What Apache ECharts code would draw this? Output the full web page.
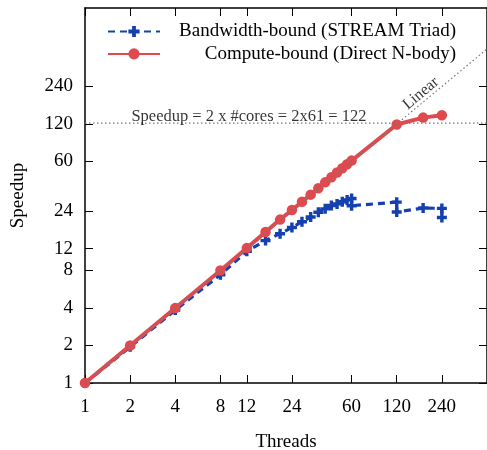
<!DOCTYPE html>
<html>
<head>
<meta charset="utf-8">
<script src="https://cdn.jsdelivr.net/npm/echarts@6/dist/echarts.min.js"></script>
<style>
html,body{margin:0;padding:0;background:#fff;}
#chart{width:487px;height:450px;}
</style>
</head>
<body>
<div id="chart"></div>
<script>
// ---- data ----
var xTicks = [1, 2, 4, 8, 12, 24, 60, 120, 240];
var yTicks = [1, 2, 4, 8, 12, 24, 60, 120, 240];

var bwThreads = [1, 2, 4, 8, 12, 16, 20, 24, 28, 32, 36, 40, 44, 48, 52, 56, 60, 60, 120, 120, 180, 240, 240];
var bwSpeedup = [1, 1.95, 3.85, 7.4, 11.4, 13.9, 15.8, 17.7, 19.7, 21.5, 23.5, 25, 26.6, 27.4, 28.5, 29.5, 30.3, 26.5, 28.3, 23.6, 25.4, 25.2, 21.3];

var cbThreads = [1, 2, 4, 8, 12, 16, 20, 24, 28, 32, 36, 40, 44, 48, 52, 56, 60, 120, 180, 240];
var cbSpeedup = [1, 2, 4, 8, 12.1, 16.3, 20.5, 24.5, 28.5, 32.5, 36.6, 40.8, 44.8, 49, 53, 57, 61, 119, 135, 141];

var linearRange = [1, 480];
var capLevel = 122;
var capText = 'Speedup = 2 x #cores = 2x61 = 122';
var capTextAt = [12.4, 122];
var linearText = 'Linear';
var linearTextAt = [174, 211];

var bwName = 'Bandwidth-bound (STREAM Triad)';
var cbName = 'Compute-bound (Direct N-body)';

// ---- build ----
function zip(a, b) { return a.map(function (v, i) { return [v, b[i]]; }); }

var FONT = 'Liberation Serif';
var BLUE = '#1440b0';
var RED = '#e04a4f';
var GRAY = '#777';
var plus = 'path://M3.3,0H6.7V3.3H10V6.7H6.7V10H3.3V6.7H0V3.3H3.3Z';

function xAx(pos, labels) {
  return {
    type: 'log', logBase: 2, min: 1, max: 480, position: pos,
    name: labels ? 'Threads' : '', nameLocation: 'middle', nameGap: 50,
    nameTextStyle: { fontFamily: FONT, fontSize: 19, color: '#000' },
    axisLine: { show: true, lineStyle: { color: '#000', width: 1.5 } },
    axisTick: { show: true, inside: true, length: 8, customValues: xTicks, lineStyle: { color: '#000', width: 1 } },
    minorTick: { show: false },
    splitLine: { show: false },
    axisLabel: { show: labels, customValues: xTicks, margin: 15, fontFamily: FONT, fontSize: 19, color: '#000' }
  };
}
function yAx(pos, labels) {
  return {
    type: 'log', logBase: 2, min: 1, max: 1024, position: pos,
    name: labels ? 'Speedup' : '', nameLocation: 'middle', nameGap: 57,
    nameTextStyle: { fontFamily: FONT, fontSize: 19, color: '#000' },
    axisLine: { show: true, lineStyle: { color: '#000', width: 1.5 } },
    axisTick: { show: true, inside: true, length: 8, customValues: yTicks, lineStyle: { color: '#000', width: 1 } },
    minorTick: { show: false },
    splitLine: { show: false },
    axisLabel: { show: labels, customValues: yTicks, margin: 12, fontFamily: FONT, fontSize: 19, color: '#000' }
  };
}

var chart = echarts.init(document.getElementById('chart'), null, { renderer: 'canvas' });
chart.setOption({
  animation: false,
  backgroundColor: '#fff',
  grid: { left: 85, top: 8, width: 402, height: 375, containLabel: false, outerBoundsMode: 'none' },
  xAxis: [xAx('bottom', true), xAx('top', false)],
  yAxis: [yAx('left', true), yAx('right', false)],
  legend: {
    orient: 'vertical', left: 102, top: 17,
    itemWidth: 52, itemHeight: 14, itemGap: 3.4,
    data: [bwName, cbName],
    formatter: function (n) { return '{a|' + n + '}'; },
    textStyle: {
      fontFamily: FONT, fontSize: 19, color: '#000',
      rich: { a: { width: 291, align: 'right', fontFamily: FONT, fontSize: 19, lineHeight: 20, color: '#000' } }
    }
  },
  series: [
    {
      name: bwName, type: 'line', data: zip(bwThreads, bwSpeedup),
      symbol: plus, symbolSize: 10, z: 3,
      lineStyle: { color: BLUE, width: 3.2, type: [7, 5] },
      itemStyle: { color: BLUE }
    },
    {
      name: cbName, type: 'line', data: zip(cbThreads, cbSpeedup),
      symbol: 'circle', symbolSize: 10.5, z: 4,
      lineStyle: { color: RED, width: 4 },
      itemStyle: { color: RED }
    },
    {
      name: 'linear', type: 'line', data: zip(linearRange, linearRange),
      symbol: 'none', z: 5, silent: true,
      lineStyle: { color: GRAY, width: 1.2, type: [1.5, 2.5] }
    },
    {
      name: 'cap', type: 'line', data: zip(linearRange, [capLevel, capLevel]),
      symbol: 'none', z: 5, silent: true,
      lineStyle: { color: GRAY, width: 1.2, type: [1.5, 2.5] }
    },
    {
      name: 'notes', type: 'scatter', symbolSize: 0, z: 6, silent: true,
      data: [
        { value: capTextAt, label: { show: true, formatter: capText, position: 'inside', offset: [0, -6], fontFamily: FONT, fontSize: 16.5, color: '#000' } },
        { value: linearTextAt, label: { show: true, formatter: linearText, position: 'inside', rotate: 40, fontFamily: FONT, fontSize: 16, color: '#000' } }
      ]
    }
  ]
});
</script>
</body>
</html>
